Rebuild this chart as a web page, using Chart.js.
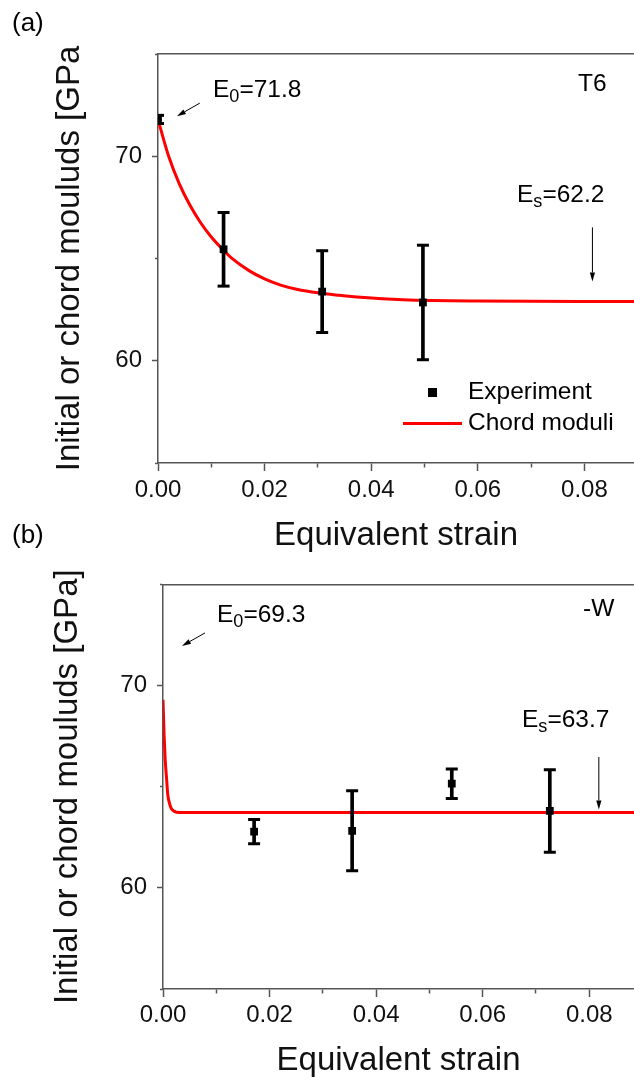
<!DOCTYPE html>
<html>
<head>
<meta charset="utf-8">
<script src="https://cdn.jsdelivr.net/npm/chart.js@4.4.0/dist/chart.umd.min.js"></script>
<style>
html,body{margin:0;padding:0;background:#fff;}
#wrap{position:relative;width:634px;height:1082px;overflow:hidden;font-family:"Liberation Sans",Arial,sans-serif;color:#000;}
canvas{position:absolute;left:0;}
.t{position:absolute;white-space:nowrap;font-size:24.5px;line-height:1;}
.t .s{font-size:0.74em;vertical-align:-0.3em;line-height:0;}
.mk{position:absolute;}
</style>
</head>
<body>
<div id="wrap">
  <canvas id="ca" width="634" height="560" style="top:0px"></canvas>
  <canvas id="cb" width="634" height="522" style="top:560px"></canvas>

  <div class="t" style="left:12px;top:9px;font-size:26px">(a)</div>
  <div class="t" style="left:213px;top:77.3px">E<span class="s">0</span>=71.8</div>
  <div class="t" style="left:578px;top:71.3px">T6</div>
  <div class="t" style="left:517px;top:182.3px">E<span class="s">s</span>=62.2</div>
  <div class="mk" style="left:427.5px;top:387.5px;width:9px;height:9px;background:#000"></div>
  <div class="t" style="left:468px;top:379.3px">Experiment</div>
  <div class="mk" style="left:403px;top:421.5px;width:59px;height:3px;background:#ff0000"></div>
  <div class="t" style="left:468px;top:410.3px">Chord moduli</div>

  <div class="t" style="left:12px;top:521px;font-size:26px">(b)</div>
  <div class="t" style="left:217px;top:602.3px">E<span class="s">0</span>=69.3</div>
  <div class="t" style="left:583px;top:596.3px">-W</div>
  <div class="t" style="left:522px;top:707.3px">E<span class="s">s</span>=63.7</div>
</div>
<script>
// ---------- data: panel (a) T6 ----------
const curveStrainA = [0, 0.002, 0.004, 0.006, 0.008, 0.010, 0.012, 0.014, 0.017, 0.020, 0.023, 0.026, 0.030, 0.034, 0.038, 0.046, 0.060, 0.0893];
const curveModA    = [71.8, 70.0, 68.65, 67.6, 66.75, 66.05, 65.48, 64.98, 64.42, 64.0, 63.7, 63.5, 63.32, 63.2, 63.1, 62.98, 62.92, 62.9];
const expStrainA = [0, 0.0123, 0.0308, 0.0497];
const expModA    = [71.8, 65.45, 63.38, 62.85];
const expErrA    = [0.2, 1.8, 2.0, 2.8];
const arrowsA = [[0.00785, 72.6, 0.00355, 71.96], [0.0815, 66.52, 0.0815, 63.87]];

// ---------- data: panel (b) -W ----------
const curveStrainB = [0, 0.0002, 0.0004, 0.0007, 0.0009, 0.0012, 0.0015, 0.002, 0.0032, 0.0884];
const curveModB    = [69.3, 67.6, 66.4, 65.3, 64.6, 64.2, 63.95, 63.8, 63.72, 63.72];
const expStrainB = [0.0171, 0.0355, 0.0542, 0.0726];
const expModB    = [62.78, 62.82, 65.15, 63.8];
const expErrB    = [0.6, 1.98, 0.73, 2.04];
const arrowsB = [[0.00788, 72.6, 0.00356, 71.96], [0.0818, 66.47, 0.0818, 63.87]];

// ---------- ticks ----------
const xTickValues = [0, 0.01, 0.02, 0.03, 0.04, 0.05, 0.06, 0.07, 0.08];
const xTickLabels = ['0.00', '', '0.02', '', '0.04', '', '0.06', '', '0.08'];
const yTickValues = [55, 60, 65, 70, 75];
const yTickLabels = ['', '60', '', '70', ''];

Chart.defaults.font.family = '"Liberation Sans", Arial, sans-serif';

const arrowPlugin = {
  id: 'arrows',
  afterDatasetsDraw(chart, args, opts) {
    const {ctx} = chart;
    const xs = chart.scales.x, ys = chart.scales.y;
    ctx.save();
    ctx.strokeStyle = '#000'; ctx.fillStyle = '#000'; ctx.lineWidth = 1;
    (opts.list || []).forEach(a => {
      const x1 = xs.getPixelForValue(a[0]), y1 = ys.getPixelForValue(a[1]);
      const x2 = xs.getPixelForValue(a[2]), y2 = ys.getPixelForValue(a[3]);
      const ang = Math.atan2(y2 - y1, x2 - x1);
      const hl = 9, hw = 2.6;
      const bx = x2 - hl * Math.cos(ang), by = y2 - hl * Math.sin(ang);
      ctx.beginPath(); ctx.moveTo(x1, y1); ctx.lineTo(bx, by); ctx.stroke();
      ctx.beginPath(); ctx.moveTo(x2, y2);
      ctx.lineTo(bx + hw * Math.sin(ang), by - hw * Math.cos(ang));
      ctx.lineTo(bx - hw * Math.sin(ang), by + hw * Math.cos(ang));
      ctx.closePath(); ctx.fill();
    });
    ctx.restore();
  }
};

function makeChart(id, c) {
  const line = c.cx.map((v, i) => ({x: v, y: c.cy[i]}));
  const bars = c.ex.map((v, i) => ({x: v, y: [c.ey[i] - c.ee[i], c.ey[i] + c.ee[i]]}));
  const caps = [];
  c.ex.forEach((v, i) => { caps.push({x: v, y: c.ey[i] - c.ee[i]}); caps.push({x: v, y: c.ey[i] + c.ee[i]}); });
  const pts = c.ex.map((v, i) => ({x: v, y: c.ey[i]}));
  const axisColor = '#555';
  return new Chart(document.getElementById(id), {
    type: 'scatter',
    data: {
      datasets: [
        {type: 'line', label: 'Chord moduli', data: line, borderColor: '#ff0000', borderWidth: 3, pointRadius: 0,
         cubicInterpolationMode: 'monotone', fill: false, order: 4, clip: 0},
        {type: 'bar', label: 'err', data: bars, backgroundColor: '#000', borderWidth: 0, barThickness: 3, order: 3, clip: 0},
        {type: 'scatter', label: 'caps', data: caps, pointStyle: 'line', pointRadius: 6, borderWidth: 3,
         borderColor: '#000', backgroundColor: '#000', order: 2, clip: 0},
        {type: 'scatter', label: 'Experiment', data: pts, pointStyle: 'rect', pointRadius: 5.5, borderWidth: 0,
         backgroundColor: '#000', order: 1, clip: 0}
      ]
    },
    plugins: [arrowPlugin],
    options: {
      responsive: false,
      animation: false,
      events: [],
      layout: {autoPadding: false, padding: {top: c.padTop, left: 0, right: 0, bottom: 0}},
      plugins: {legend: {display: false}, tooltip: {enabled: false}, arrows: {list: c.arrows}},
      scales: {
        x: {
          type: 'linear', position: 'bottom', min: 0, max: c.xMax, offset: false,
          afterBuildTicks: s => { s.ticks = xTickValues.map(v => ({value: v})); },
          afterFit: s => { s.height = c.xAxisH; },
          ticks: {autoSkip: false, maxRotation: 0, minRotation: 0, padding: c.xTickPad, color: '#111',
                  font: {size: 24}, callback: (v, i) => xTickLabels[i]},
          grid: {offset: false, drawOnChartArea: false, drawTicks: true, tickLength: 8, tickColor: axisColor, tickWidth: 1.5,
                 tickBorderDash: ctx => (xTickLabels[ctx.index] === '' ? [4, 100] : [])},
          border: {display: true, color: axisColor, width: 1.5},
          title: {display: true, text: 'Equivalent strain', color: '#111', font: {size: 33},
                  padding: {top: 0, bottom: c.xTitlePad}}
        },
        x2: {
          type: 'linear', position: 'top', min: 0, max: c.xMax, display: true, offset: false,
          afterFit: s => { s.height = 0; },
          ticks: {display: false},
          grid: {display: false, drawTicks: false, offset: false},
          border: {display: true, color: axisColor, width: 1.5}
        },
        y: {
          type: 'linear', position: 'left', min: 55, max: 75, offset: false, beginAtZero: false,
          afterBuildTicks: s => { s.ticks = yTickValues.map(v => ({value: v})); },
          afterFit: s => { s.width = c.yAxisW; },
          ticks: {padding: 10, color: '#111', font: {size: 24}, callback: (v, i) => yTickLabels[i]},
          grid: {offset: false, drawOnChartArea: false, drawTicks: true, tickLength: 6, tickColor: axisColor, tickWidth: 1.5,
                 tickBorderDash: ctx => (yTickLabels[ctx.index] === '' ? [0, 3, 3, 100] : [])},
          border: {display: true, color: axisColor, width: 1.5},
          title: {display: true, text: c.yTitle, color: '#111', font: {size: 33},
                  padding: {top: c.yTitlePad, bottom: 0}}
        }
      }
    }
  });
}

makeChart('ca', {
  cx: curveStrainA, cy: curveModA, ex: expStrainA, ey: expModA, ee: expErrA, arrows: arrowsA,
  xMax: 0.0893, padTop: 54, xAxisH: 97, yAxisW: 158, xTickPad: 5.4, xTitlePad: 4.3, yTitlePad: 49.8,
  yTitle: 'Initial or chord mouluds [GPa'
});
makeChart('cb', {
  cx: curveStrainB, cy: curveModB, ex: expStrainB, ey: expModB, ee: expErrB, arrows: arrowsB,
  xMax: 0.0884, padTop: 20, xAxisH: 93, yAxisW: 163, xTickPad: 3.9, xTitlePad: 0.8, yTitlePad: 48.1,
  yTitle: 'Initial or chord mouluds [GPa]'
});
</script>
</body>
</html>
